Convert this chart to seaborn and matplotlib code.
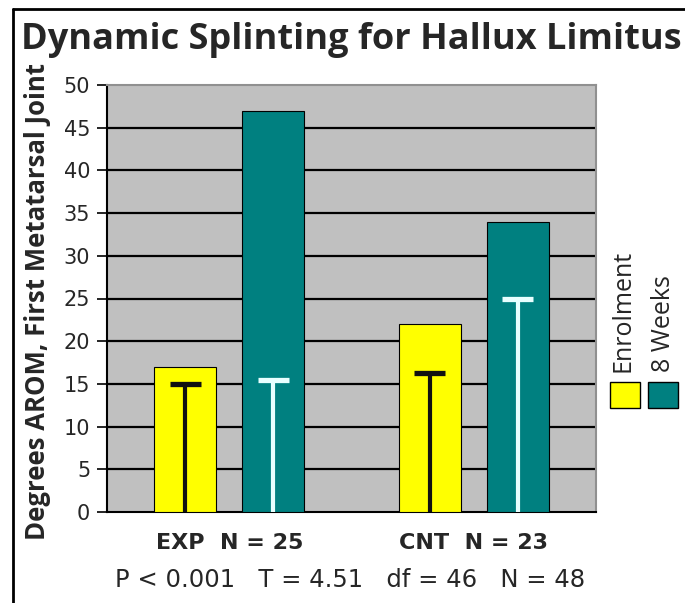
import matplotlib
matplotlib.use("Agg")
import matplotlib.pyplot as plt
import seaborn as sns
import pandas as pd
from matplotlib.patches import Rectangle
from matplotlib.lines import Line2D

# ---- data ----
groups = ["EXP  N = 25", "CNT  N = 23"]
timepoints = ["Enrolment", "8 Weeks"]
enrolment = [17, 22]
weeks8 = [47, 34]
err_enrolment = [15, 16.3]
err_weeks8 = [15.4, 24.9]
y_ticks = [0, 5, 10, 15, 20, 25, 30, 35, 40, 45, 50]
title = "Dynamic Splinting for Hallux Limitus"
ylabel = "Degrees AROM, First Metatarsal Joint"
stats_text = "P < 0.001   T = 4.51   df = 46   N = 48"

colors = ["#ffff00", "#008080"]
err_colors = ["#111111", "#e8ffff"]

df = pd.DataFrame({
    "group": groups * 2,
    "time": [timepoints[0]] * 2 + [timepoints[1]] * 2,
    "value": enrolment + weeks8,
})
errs = [err_enrolment, err_weeks8]

sns.set_style("white")
OPEN = ["Open Sans", "DejaVu Sans"]
DEJA = ["DejaVu Sans"]
plt.rcParams["font.family"] = OPEN

fig = plt.figure(figsize=(6.85, 6.03), dpi=100)
ax = fig.add_axes([107 / 685, 1 - 512 / 603, (596 - 107) / 685, (512 - 85) / 603])
ax.set_facecolor("#c0c0c0")

sns.barplot(data=df, x="group", y="value", hue="time", hue_order=timepoints,
            order=groups, palette=colors, saturation=1, width=0.72, gap=0.3,
            edgecolor="black", linewidth=0.8, legend=False, ax=ax, zorder=3)

# error bars (drawn from zero up to the cap, as in the reference)
for i, cont in enumerate(ax.containers):
    for j, bar in enumerate(cont):
        xc = bar.get_x() + bar.get_width() / 2
        top = errs[i][j]
        ax.vlines(xc, 0, top, color=err_colors[i], lw=3, zorder=4)
        ax.hlines(top, xc - 0.063, xc + 0.063, color=err_colors[i], lw=3.8, zorder=4)

ax.set_ylim(0, 50)
ax.set_xlim(-0.5, 1.5)
ax.set_yticks(y_ticks)
ax.set_yticklabels([str(t) for t in y_ticks], fontsize=15, family=DEJA)
for t in y_ticks[1:-1]:
    ax.axhline(t, color="black", lw=1.6, zorder=1)

ax.set_xticks([0, 1])
ax.set_xticklabels(groups, fontsize=16, fontweight="bold", family=DEJA)
ax.set_xticks([-0.5, 0.5, 1.5], minor=True)
ax.tick_params(axis="x", which="major", length=0, pad=15)
ax.tick_params(axis="x", which="minor", length=5, width=1.5, color="black", direction="out")
ax.tick_params(axis="y", length=7, width=1.2, color="black", direction="out", left=True, pad=5)

ax.set_xlabel("")
ax.set_ylabel("")
for side in ["top", "right"]:
    ax.spines[side].set_color("#909090")
    ax.spines[side].set_linewidth(1.5)
for side in ["left", "bottom"]:
    ax.spines[side].set_color("black")
    ax.spines[side].set_linewidth(1.5)

# titles and texts
fig.text(351 / 685, 1 - 40 / 603, title, ha="center", va="center",
         fontsize=26, fontweight="bold", family=OPEN)
fig.text(38 / 685, 1 - 301 / 603, ylabel, ha="center", va="center", rotation=90,
         fontsize=18.5, fontweight="bold", family=OPEN)
fig.text(350 / 685, 1 - 580 / 603, stats_text, ha="center", va="center",
         fontsize=17.5, family=DEJA)

# legend (rotated labels with swatches below)
leg_x = [623, 663]
sw_x = [610, 648]
for i, lab in enumerate(timepoints):
    fig.text(leg_x[i] / 685, 1 - 372 / 603, lab, rotation=90, ha="center", va="bottom",
             fontsize=18, family=OPEN)
    fig.patches.append(Rectangle((sw_x[i] / 685, 1 - 408 / 603), 30 / 685, 26 / 603,
                                 transform=fig.transFigure, facecolor=colors[i],
                                 edgecolor="black", lw=1))

# outer frame (left and top edges)
fig.lines.append(Line2D([13 / 685, 13 / 685], [0, 1 - 9 / 603], transform=fig.transFigure,
                        color="black", lw=2))
fig.lines.append(Line2D([13 / 685, 1], [1 - 9 / 603, 1 - 9 / 603], transform=fig.transFigure,
                        color="black", lw=2))

fig.savefig("out.png", dpi=100, facecolor="white")
